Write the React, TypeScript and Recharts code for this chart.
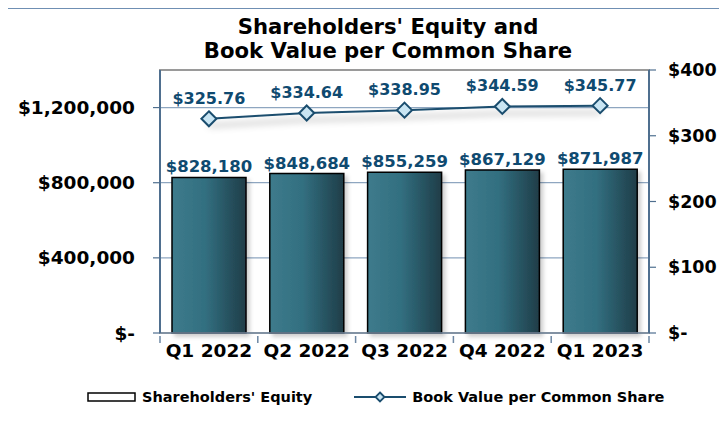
import React from "react";
import {
  ComposedChart,
  Bar,
  Line,
  XAxis,
  YAxis,
  CartesianGrid,
  LabelList,
  ReferenceArea,
} from "recharts";

const quarters = ["Q1 2022", "Q2 2022", "Q3 2022", "Q4 2022", "Q1 2023"];
const equity = [828180, 848684, 855259, 867129, 871987];
const bookValue = [325.76, 334.64, 338.95, 344.59, 345.77];
const leftTicks = [0, 400000, 800000, 1200000];
const rightTicks = [0, 100, 200, 300, 400];

const data = quarters.map((q, i) => ({ q, equity: equity[i], bv: bookValue[i] }));

const FONT = "'DejaVu Sans', Verdana, sans-serif";
const LABEL_BLUE = "#0f4a70";
const LINE_BLUE = "#1a4d6e";

const CHART_W = 720;
const CHART_H = 400;
const X_AXIS_H = 30;
const MARGIN = { top: 61, right: 0, bottom: CHART_H - 324 - X_AXIS_H, left: 0 };
const LEFT_W = 153;
const RIGHT_W = 78;
const BAND = (CHART_W - LEFT_W - RIGHT_W) / quarters.length;

const fmtLeft = (v: number) => (v === 0 ? "$-" : "$" + v.toLocaleString("en-US"));
const fmtRight = (v: number) => (v === 0 ? "$-" : "$" + v);
const fmtEq = (v: any) => "$" + Number(v).toLocaleString("en-US");
const fmtBv = (v: any) => "$" + Number(v).toFixed(2);

const Diamond = (props: any) => {
  const { cx, cy } = props;
  if (cx == null || cy == null) return null;
  const r = 7.5;
  return (
    <polygon
      points={`${cx},${cy - r} ${cx + r},${cy} ${cx},${cy + r} ${cx - r},${cy}`}
      fill="#c9e5f3"
      stroke={LINE_BLUE}
      strokeWidth={2}
    />
  );
};

const XTick = (props: any) => {
  const { x, y, payload, index } = props;
  const half = BAND / 2;
  return (
    <g>
      <line x1={x - half} y1={y - 8} x2={x - half} y2={y - 1} stroke="#6d87a3" strokeWidth={1.5} />
      {index === quarters.length - 1 && (
        <line x1={x + half} y1={y - 8} x2={x + half} y2={y - 1} stroke="#6d87a3" strokeWidth={1.5} />
      )}
      <text
        x={x}
        y={y}
        dy="0.71em"
        textAnchor="middle"
        fontFamily={FONT}
        fontWeight="bold"
        fontSize={18.5}
        fill="#000"
      >
        {payload.value}
      </text>
    </g>
  );
};

const LegendBox = () => (
  <div
    style={{
      position: "absolute",
      top: 380,
      left: 0,
      display: "flex",
      alignItems: "center",
      fontFamily: FONT,
      fontWeight: "bold",
      fontSize: 14.5,
      color: "#000",
      paddingLeft: 80,
      whiteSpace: "nowrap",
    }}
  >
    <svg width={50} height={12} style={{ marginRight: 5 }}>
      <rect x={1} y={2} width={47} height={8} fill="#fff" stroke="#000" strokeWidth={1.5} />
    </svg>
    <span>Shareholders' Equity</span>
    <svg width={52} height={16} style={{ marginLeft: 42, marginRight: 6 }}>
      <line x1={0} y1={8} x2={52} y2={8} stroke={LINE_BLUE} strokeWidth={2} />
      <polygon points="26,3.5 30.5,8 26,12.5 21.5,8" fill="#c9e5f3" stroke={LINE_BLUE} strokeWidth={1.8} />
    </svg>
    <span>Book Value per Common Share</span>
  </div>
);

export default function App() {
  return (
    <div
      style={{
        position: "relative",
        marginLeft: -2,
        width: 721,
        height: 404,
        borderLeft: "1px solid #6f8fb3",
        borderTop: "1px solid #6f8fb3",
        boxSizing: "border-box",
        background: "#fff",
        overflow: "hidden",
      }}
    >
      <div
        style={{
          position: "absolute",
          left: 0,
          width: 762,
          top: 6,
          textAlign: "center",
          fontFamily: FONT,
          fontWeight: "bold",
          fontSize: 21.2,
          lineHeight: "24px",
          color: "#000",
          zIndex: 2,
          pointerEvents: "none",
          whiteSpace: "nowrap",
        }}
      >
        Shareholders' Equity and
        <br />
        Book Value per Common Share
      </div>
      <ComposedChart width={CHART_W} height={CHART_H} data={data} margin={MARGIN}>
        <defs>
          <linearGradient id="barGrad" x1="0" y1="0" x2="1" y2="0">
            <stop offset="0%" stopColor="#3e7b8c" />
            <stop offset="45%" stopColor="#326f80" />
            <stop offset="100%" stopColor="#1f3d48" />
          </linearGradient>
          <filter id="lineShadow" x="-10%" y="-50%" width="120%" height="300%">
            <feDropShadow dx="0" dy="7" stdDeviation="3.5" floodColor="#000" floodOpacity="0.38" />
          </filter>
          <filter id="barShadow" x="-10%" y="-10%" width="130%" height="130%">
            <feDropShadow dx="3" dy="3" stdDeviation="2" floodColor="#000" floodOpacity="0.2" />
          </filter>
        </defs>
        <CartesianGrid yAxisId="left" vertical={false} stroke="#8ea6c0" strokeWidth={1.2} />
        <ReferenceArea
          yAxisId="left"
          y1={0}
          y2={1400000}
          fill="none"
          stroke="#9a9a9a"
          strokeWidth={2}
          ifOverflow="visible"
        />
        <XAxis
          dataKey="q"
          height={X_AXIS_H}
          tick={<XTick />}
          tickLine={false}
          axisLine={{ stroke: "#7a8fa6", strokeWidth: 1.5 }}
          tickSize={8}
          tickMargin={3}
          interval={0}
        />
        <YAxis
          yAxisId="left"
          width={LEFT_W}
          domain={[0, 1400000]}
          ticks={leftTicks}
          tickFormatter={fmtLeft}
          axisLine={{ stroke: "#4f6f8f", strokeWidth: 2 }}
          tickLine={{ stroke: "#4f6f8f", strokeWidth: 1.2 }}
          tickSize={7}
          tickMargin={18}
          tick={{ fontFamily: FONT, fontWeight: "bold", fontSize: 18.5, fill: "#000" }}
        />
        <YAxis
          yAxisId="right"
          orientation="right"
          width={RIGHT_W}
          domain={[0, 400]}
          ticks={rightTicks}
          tickFormatter={fmtRight}
          axisLine={{ stroke: "#4f6f8f", strokeWidth: 2 }}
          tickLine={{ stroke: "#4f6f8f", strokeWidth: 1.2 }}
          tickSize={7}
          tickMargin={12}
          tick={{ fontFamily: FONT, fontWeight: "bold", fontSize: 17.5, fill: "#000" }}
        />
        <Bar
          yAxisId="left"
          dataKey="equity"
          name="Shareholders' Equity"
          barSize={74}
          fill="url(#barGrad)"
          stroke="#000"
          strokeWidth={1.5}
          isAnimationActive={false}
          style={{ filter: "url(#barShadow)" }}
        >
          <LabelList
            dataKey="equity"
            position="top"
            offset={5}
            formatter={fmtEq}
            fill={LABEL_BLUE}
            fontFamily={FONT}
            fontWeight="bold"
            fontSize={16.5}
          />
        </Bar>
        <Line
          yAxisId="right"
          dataKey="bv"
          name="Book Value per Common Share"
          stroke={LINE_BLUE}
          strokeWidth={2}
          dot={<Diamond />}
          activeDot={false}
          isAnimationActive={false}
          style={{ filter: "url(#lineShadow)" }}
        >
          <LabelList
            dataKey="bv"
            position="top"
            offset={15}
            formatter={fmtBv}
            fill={LABEL_BLUE}
            fontFamily={FONT}
            fontWeight="bold"
            fontSize={16}
          />
        </Line>
      </ComposedChart>
      <LegendBox />
    </div>
  );
}
